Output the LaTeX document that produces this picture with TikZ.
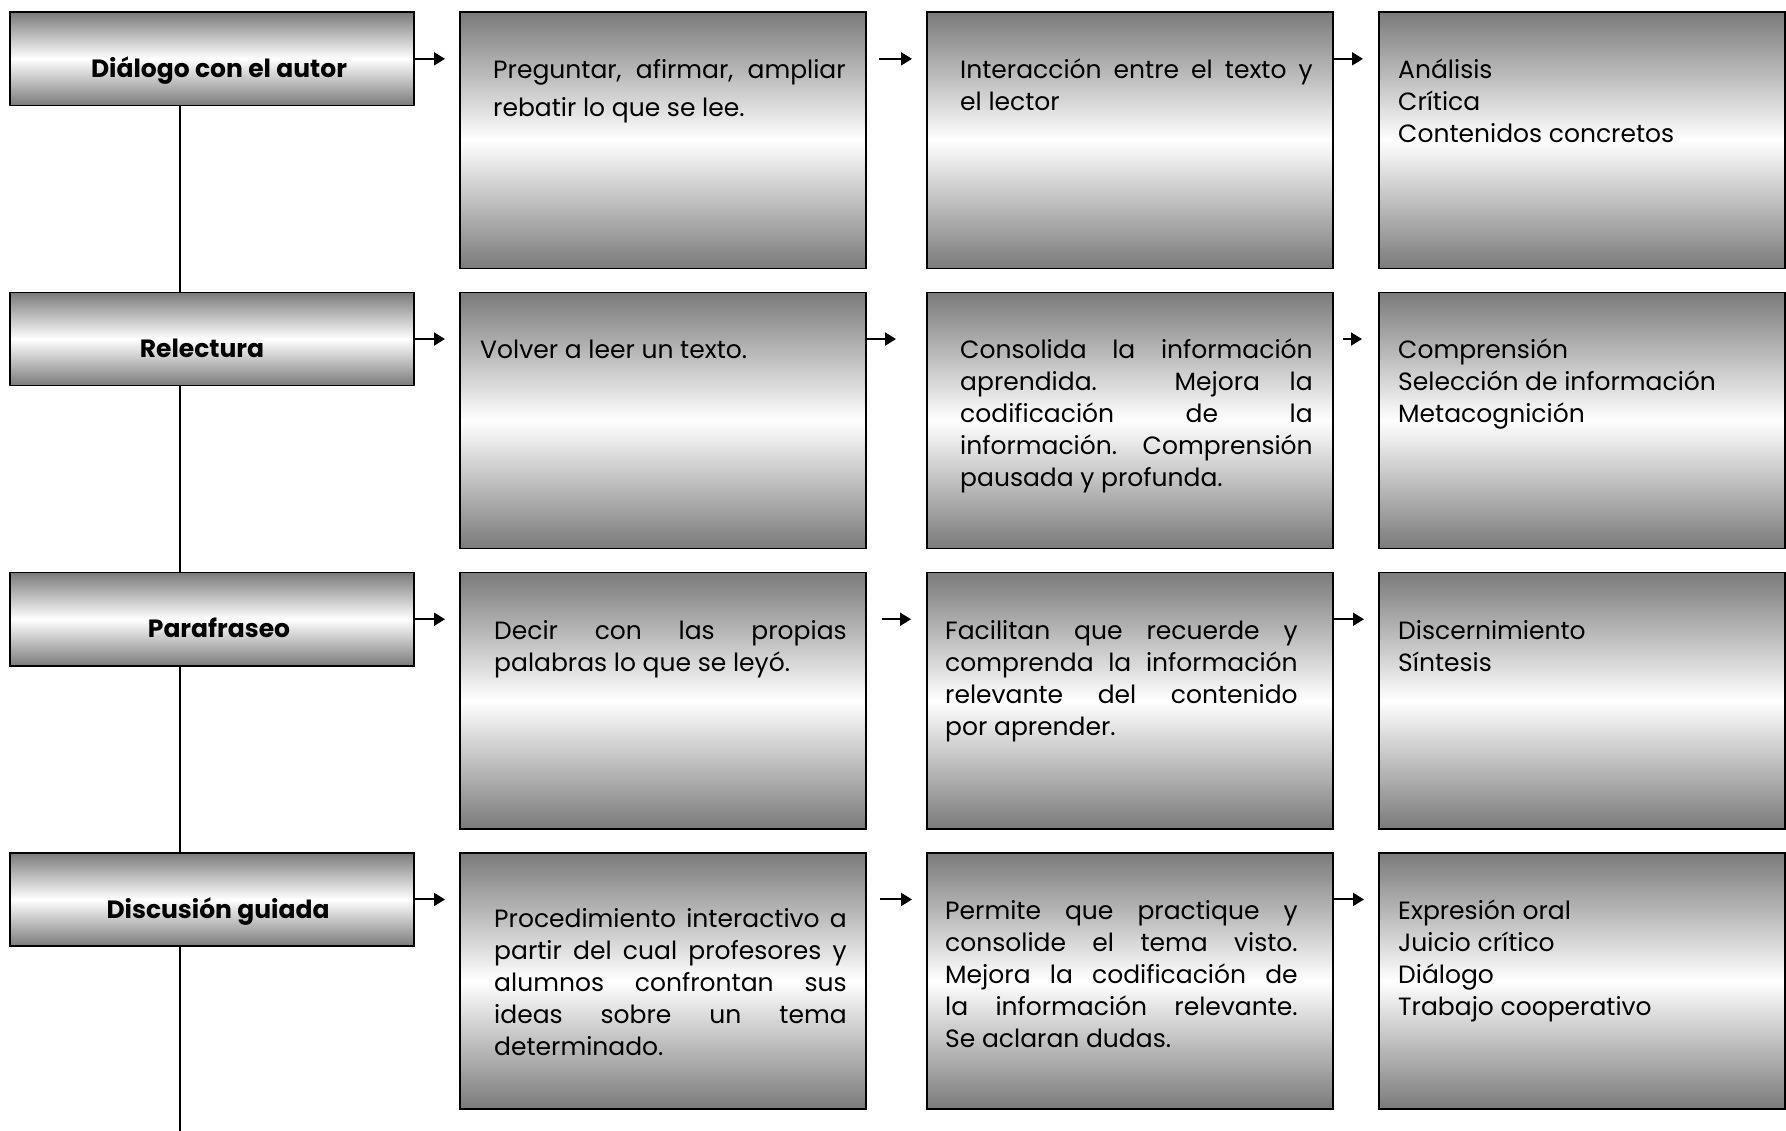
\documentclass[tikz,border=0pt]{standalone}
\usepackage{fontspec}
\setmainfont{Poppins}
\usetikzlibrary{arrows.meta}
\definecolor{boxgray}{RGB}{122,122,122}
\newcommand\jl[1]{\makebox[352.5pt][s]{#1}}
\newcommand\fl{\rule{0pt}{26pt}}
\newcommand\txtfont{\fontsize{25}{32}\selectfont\lineskiplimit=-50pt\relax}
\tikzset{
  gbox/.style={draw=black, line width=1.5pt, top color=boxgray, bottom color=boxgray, middle color=white, inner sep=0pt, anchor=north west},
  lbox/.style={gbox, minimum width=404pt, minimum height=93.4pt},
  tbox/.style={gbox, minimum width=406pt, minimum height=256.3pt},
  txt/.style={anchor=north west, inner sep=0pt, align=left, font=\txtfont},
  ttl/.style={anchor=base, inner sep=0pt, font=\bfseries\fontsize{25}{32}\selectfont},
  arr/.style={line width=2pt, -{Triangle[length=11pt,width=13pt]}},
  vline/.style={line width=1.5pt}
}
\begin{document}
\begin{tikzpicture}[x=1pt,y=-1pt]
\useasboundingbox (0,0) rectangle (1786,1131);
\coordinate (lx) at (180,0);
\coordinate (bot) at (180,1131);
% row 1
\node[lbox] (d1) at (9,11.4) {};
\node[tbox] (p1) at (459,11.4) {};
\node[tbox] (q1) at (926,11.4) {};
\node[tbox] (r1) at (1378,11.4) {};
% row 2
\node[lbox] (d2) at (9,291.6) {};
\node[tbox] (p2) at (459,291.6) {};
\node[tbox] (q2) at (926,291.6) {};
\node[tbox] (r2) at (1378,291.6) {};
% row 3
\node[lbox] (d3) at (9,571.8) {};
\node[tbox] (p3) at (459,571.8) {};
\node[tbox] (q3) at (926,571.8) {};
\node[tbox] (r3) at (1378,571.8) {};
% row 4
\node[lbox] (d4) at (9,852.0) {};
\node[tbox] (p4) at (459,852.0) {};
\node[tbox] (q4) at (926,852.0) {};
\node[tbox] (r4) at (1378,852.0) {};
% titles
\node[ttl] (h1) at (219,77.4) {Diálogo con el autor};
\node[ttl] (h2) at (202,357.6) {Relectura};
\node[ttl] (h3) at (219,637.8) {Parafraseo};
\node[ttl] (h4) at (218,918.0) {Discusión guiada};
% texts row 1
\node[txt] (t11) at (493,52.4) {\fl\jl{Preguntar, afirmar, ampliar}\\[6pt]rebatir lo que se lee.};
\node[txt] (t12) at (960,52.4) {\fl\jl{Interacción entre el texto y}\\el lector};
\node[txt] (t13) at (1398,52.4) {\fl Análisis\\Crítica\\Contenidos concretos};
% texts row 2
\node[txt] (t21) at (480,332.6) {\fl Volver a leer un texto.};
\node[txt] (t22) at (960,332.6) {\fl\jl{Consolida la información}\\\jl{aprendida. Mejora la}\\\jl{codificación de la}\\\jl{información. Comprensión}\\pausada y profunda.};
\node[txt] (t23) at (1398,332.6) {\fl Comprensión\\Selección de información\\Metacognición};
% texts row 3
\node[txt] (t31) at (494,612.8) {\fl\jl{Decir con las propias}\\palabras lo que se leyó.};
\node[txt] (t32) at (945,612.8) {\fl\jl{Facilitan que recuerde y}\\\jl{comprenda la información}\\\jl{relevante del contenido}\\por aprender.};
\node[txt] (t33) at (1398,612.8) {\fl Discernimiento\\Síntesis};
% texts row 4
\node[txt] (t41) at (494,901.0) {\fl\jl{Procedimiento interactivo a}\\\jl{partir del cual profesores y}\\\jl{alumnos confrontan sus}\\\jl{ideas sobre un tema}\\determinado.};
\node[txt] (t42) at (945,893.0) {\fl\jl{Permite que practique y}\\\jl{consolide el tema visto.}\\\jl{Mejora la codificación de}\\\jl{la información relevante.}\\Se aclaran dudas.};
\node[txt] (t43) at (1398,893.0) {\fl Expresión oral\\Juicio crítico\\Diálogo\\Trabajo cooperativo};
% vertical connector
\draw[vline] (d1.south -| lx) -- (d2.north -| lx);
\draw[vline] (d2.south -| lx) -- (d3.north -| lx);
\draw[vline] (d3.south -| lx) -- (d4.north -| lx);
\draw[vline] (d4.south -| lx) -- (bot);
% arrows row 1
\draw[arr] (d1.east) -- ([xshift=-14pt]p1.west |- d1.east);
\draw[arr] ([xshift=12pt]p1.east |- d1.east) -- ([xshift=-14pt]q1.west |- d1.east);
\draw[arr] (q1.east |- d1.east) -- ([xshift=-15pt]r1.west |- d1.east);
% arrows row 2
\draw[arr] (d2.east) -- ([xshift=-14pt]p2.west |- d2.east);
\draw[arr] (p2.east |- d2.east) -- ([xshift=-30pt]q2.west |- d2.east);
\draw[arr] ([xshift=9pt]q2.east |- d2.east) -- ([xshift=-16pt]r2.west |- d2.east);
% arrows row 3
\draw[arr] (d3.east) -- ([xshift=-14pt]p3.west |- d3.east);
\draw[arr] ([xshift=15pt]p3.east |- d3.east) -- ([xshift=-15pt]q3.west |- d3.east);
\draw[arr] (q3.east |- d3.east) -- ([xshift=-14pt]r3.west |- d3.east);
% arrows row 4
\draw[arr] (d4.east) -- ([xshift=-14pt]p4.west |- d4.east);
\draw[arr] ([xshift=13pt]p4.east |- d4.east) -- ([xshift=-14pt]q4.west |- d4.east);
\draw[arr] (q4.east |- d4.east) -- ([xshift=-14pt]r4.west |- d4.east);
\end{tikzpicture}
\end{document}
